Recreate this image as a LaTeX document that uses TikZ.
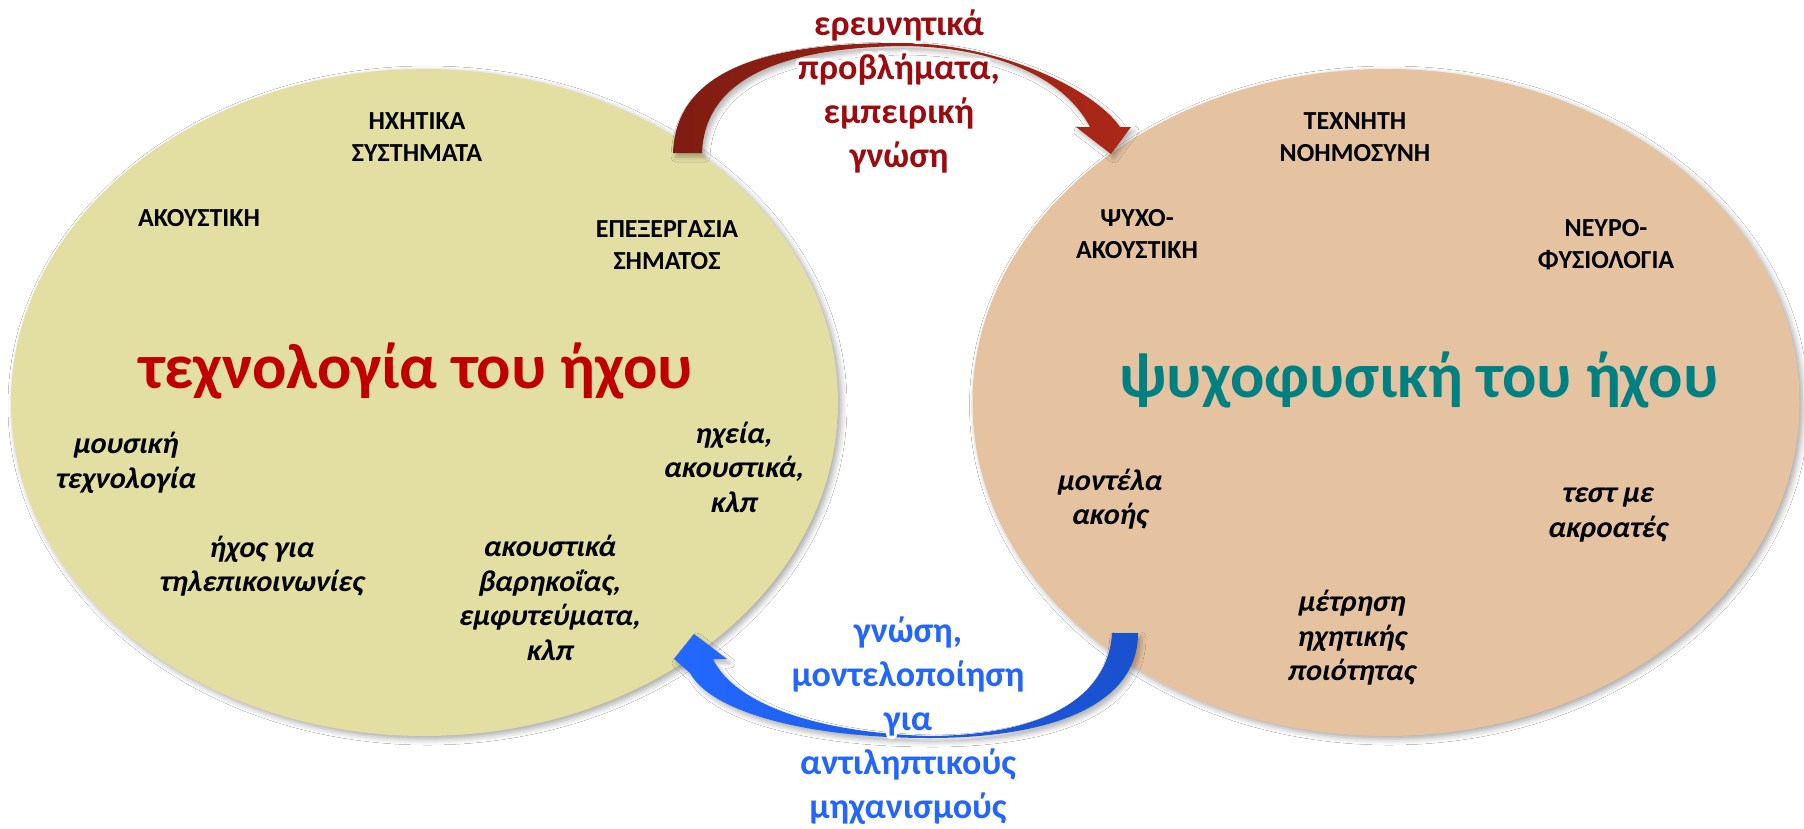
\documentclass[tikz,border=0pt]{standalone}
\usepackage{fontspec}
\setmainfont{Carlito}
\newfontfamily\slantfont{Carlito}[FakeSlant=0.2]
\usepackage[copies]{contour}
\contourlength{3pt}
\contournumber{32}
\usetikzlibrary{shapes.geometric,shadows.blur}
\definecolor{techfill}{RGB}{227,223,163}
\definecolor{psyfill}{RGB}{229,195,161}
\definecolor{titlered}{RGB}{192,0,0}
\definecolor{titleteal}{RGB}{0,128,128}
\definecolor{toplab}{RGB}{158,11,15}
\definecolor{botlab}{RGB}{34,102,255}
\definecolor{arrredA}{RGB}{128,28,18}
\definecolor{arrredB}{RGB}{172,40,24}
\definecolor{arrblueA}{RGB}{35,105,255}
\definecolor{arrblueB}{RGB}{25,80,205}
\newcommand{\halo}[1]{\contour{white}{#1}}
\begin{document}
\begin{tikzpicture}[x=1pt,y=-1pt,
  field/.style={ellipse, draw=none, minimum width=827pt, minimum height=667pt, inner sep=0pt,
    blur shadow={shadow xshift=3pt, shadow yshift=-3pt, shadow blur radius=6pt, shadow opacity=35}},
  topic/.style={font=\fontsize{26}{32}\selectfont\bfseries, align=center, text=black, inner sep=0pt},
  itopic/.style={font=\slantfont\fontsize{30}{34.5}\selectfont\bfseries, align=center, text=black, inner sep=0pt},
  bigtitle/.style={font=\fontsize{64}{74}\selectfont\bfseries, inner sep=0pt, anchor=base},
  arrowlab/.style={font=\fontsize{36}{44}\selectfont\bfseries, align=center, inner sep=0pt},
  bandshadow/.style={blur shadow={shadow xshift=3pt, shadow yshift=-4pt, shadow blur radius=5pt, shadow opacity=30}},
]
\useasboundingbox (0,0) rectangle (1804,828);
\fill[white] (0,0) rectangle (1804,828);

% the two fields
\node[field, fill=techfill] (tech) at (424.5,402.5) {};
\node[field, fill=psyfill] (psy) at (1386,402.5) {};

% left field texts
\node[topic] (hx) at (417,137) {ΗΧΗΤΙΚΑ\\ΣΥΣΤΗΜΑΤΑ};
\node[topic] (ak) at (199,218) {ΑΚΟΥΣΤΙΚΗ};
\node[topic] (ep) at (667,245) {ΕΠΕΞΕΡΓΑΣΙΑ\\ΣΗΜΑΤΟΣ};
\node[bigtitle, text=titlered] (tt) at (416,388) {τεχνολογία του ήχου};
\node[itopic] (mt) at (125,463) {μουσική\\τεχνολογία};
\node[itopic] (ht) at (261,566) {ήχος για\\τηλεπικοινωνίες};
\node[itopic] (ab) at (549,598) {ακουστικά\\βαρηκοΐας,\\εμφυτεύματα,\\κλπ};
\node[itopic] (he) at (733,467) {ηχεία,\\ακουστικά,\\κλπ};

% right field texts
\node[topic] (tn) at (1355,137) {ΤΕΧΝΗΤΗ\\ΝΟΗΜΟΣΥΝΗ};
\node[topic] (pa) at (1137,234) {ΨΥΧΟ-\\ΑΚΟΥΣΤΙΚΗ};
\node[topic] (nf) at (1606,245) {ΝΕΥΡΟ-\\ΦΥΣΙΟΛΟΓΙΑ};
\node[bigtitle, text=titleteal] (pt) at (1419,397) {ψυχοφυσική του ήχου};
\node[itopic] (ma) at (1109,499) {μοντέλα\\ακοής};
\node[itopic] (ta) at (1607,515) {τεστ με\\ακροατές};
\node[itopic] (mp) at (1351,638) {μέτρηση\\ηχητικής\\ποιότητας};

% top curved arrow (technology -> psychophysics), thin at its crest
\path[bandshadow, left color=arrredA, right color=arrredB]
  (673,153) .. controls (676,60) and (790,43) .. (900,43)
  .. controls (1000,43) and (1095,90) .. (1120,127)
  -- (1131,127) -- (1111,154) -- (1076,127) -- (1090,127)
  .. controls (1060,70) and (980,46) .. (900,46)
  .. controls (800,48) and (705,70) .. (702,153) -- cycle;
\node[arrowlab, text=toplab] (tl) at (899,93)
  {\halo{ερευνητικά}\\\halo{προβλήματα,}\\\halo{εμπειρική}\\\halo{γνώση}};

% bottom curved arrow (psychophysics -> technology), thin at its trough
\path[bandshadow, left color=arrblueA, right color=arrblueB]
  (1138,633) .. controls (1138,710) and (1040,738) .. (930,738)
  .. controls (800,738) and (710,710) .. (690,673)
  -- (674,659) -- (694,634) -- (727,659) -- (713,659)
  .. controls (735,705) and (820,733) .. (930,736)
  .. controls (1040,735) and (1108,700) .. (1112,633) -- cycle;
\node[arrowlab, text=botlab] (bl) at (908,722)
  {\halo{γνώση,}\\\halo{μοντελοποίηση}\\\halo{για}\\\halo{αντιληπτικούς}\\\halo{μηχανισμούς}};
\end{tikzpicture}
\end{document}
